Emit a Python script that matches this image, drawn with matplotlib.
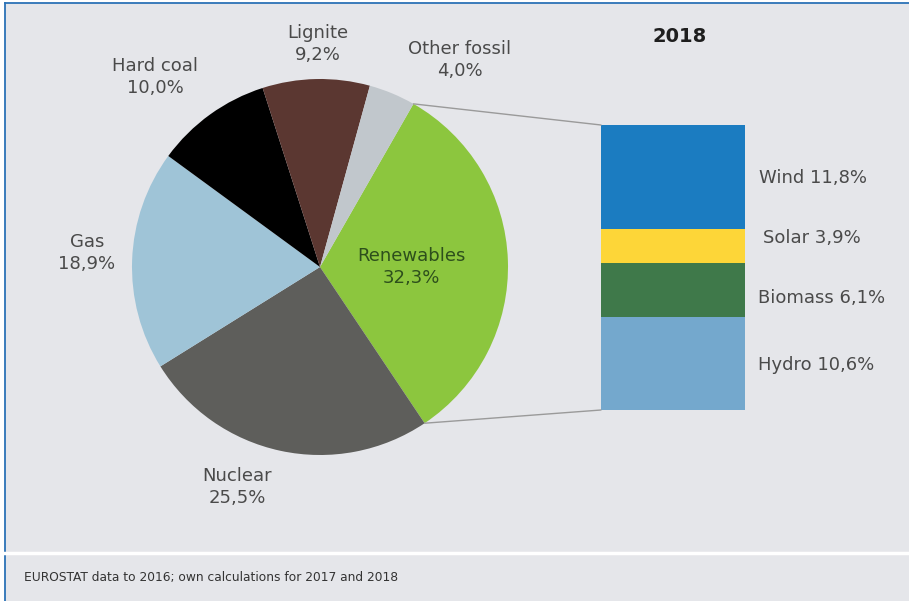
import numpy as np
import matplotlib.pyplot as plt
from matplotlib.patches import Rectangle, ConnectionPatch

W, H = 909, 601

# electricity generation mix 2018, shares in %
sources = ['Renewables', 'Nuclear', 'Gas', 'Hard coal', 'Lignite', 'Other fossil']
shares = [32.3, 25.5, 18.9, 10.0, 9.2, 4.0]
pie_colors = ['#8cc63e', '#5e5e5b', '#9fc4d7', '#000000', '#5b3731', '#c1c7cc']

# breakdown of renewables (top to bottom)
renew_parts = ['Wind', 'Solar', 'Biomass', 'Hydro']
renew_shares = [11.8, 3.9, 6.1, 10.6]
renew_colors = ['#1b7cc1', '#fdd638', '#3f794a', '#74a8cd']

# label centres, pixels from top-left
label_pos = [(411, 267), (237, 487), (87, 253), (155, 77), (318, 44), (460, 60)]
part_dy = [-1, 8, -8, -2]   # vertical nudge of bar labels, pixels
part_dx = [14, 18, 13, 13]

plt.rcParams['font.family'] = ['DejaVu Sans']


def pct(v):
    return f'{v:.1f}%'.replace('.', ',')


fig = plt.figure(figsize=(W / 100, H / 100), dpi=100, facecolor='white')
ax = fig.add_axes([0, 0, 1, 1])

cx, cy, r = 320, H - 267, 188
wedges, _ = ax.pie(shares, colors=pie_colors, startangle=60.2, counterclock=False,
                   center=(cx, cy), radius=r, wedgeprops=dict(linewidth=0))

ax.set_xlim(0, W)
ax.set_ylim(0, H)
ax.set_aspect('equal')
ax.axis('off')

# panel background and frame
ax.add_patch(Rectangle((5, 0), W - 5, H - 3, facecolor='#e5e6ea', edgecolor='none', zorder=0))
ax.plot([4.5, 4.5], [0, H - 2.5], color='#2b72b6', lw=1.3, zorder=0.5)
ax.plot([4.5, W], [H - 2.5, H - 2.5], color='#2b72b6', lw=1.3, zorder=0.5)
ax.plot([5, W], [H - 553, H - 553], color='white', lw=2.5, zorder=0.5)

for name, val, (lx, ly) in zip(sources, shares, label_pos):
    col = '#2d4f1c' if name == 'Renewables' else '#4a4a4a'
    ax.text(lx, H - ly, f'{name}\n{pct(val)}', ha='center', va='center',
            fontsize=13, color=col, linespacing=1.25)

ax.text(680, H - 37, '2018', ha='center', va='center', fontsize=14,
        fontweight='bold', color='#1e1e1e')
ax.text(24, H - 578, 'EUROSTAT data to 2016; own calculations for 2017 and 2018',
        ha='left', va='center', fontsize=8.8, color='#333333')

# stacked bar for the renewables breakdown
ax_bar = fig.add_axes([601 / W, (H - 410) / H, 144 / W, 285 / H])
total = sum(renew_shares)
bottom = total
for name, val, col, dx, dy in zip(renew_parts, renew_shares, renew_colors, part_dx, part_dy):
    bottom -= val
    ax_bar.bar(0.5, val, width=1, bottom=bottom, color=col, linewidth=0)
    ax_bar.annotate(f'{name} {pct(val)}', xy=(1, bottom + val / 2),
                    xytext=(dx, dy), textcoords='offset pixels',
                    ha='left', va='center', fontsize=13, color='#4a4a4a',
                    annotation_clip=False)
ax_bar.set_xlim(0, 1)
ax_bar.set_ylim(0, total)
ax_bar.axis('off')

# connector lines from the renewables wedge to the bar
w = wedges[0]
for ang, corner in ((w.theta2, (0, 1)), (w.theta1, (0, 0))):
    a = np.deg2rad(ang)
    p = (cx + r * np.cos(a), cy + r * np.sin(a))
    con = ConnectionPatch(xyA=p, coordsA=ax.transData, xyB=corner, coordsB=ax_bar.transAxes,
                          color='#9a9a9a', lw=1)
    fig.add_artist(con)

fig.savefig('out.png', dpi=100)
